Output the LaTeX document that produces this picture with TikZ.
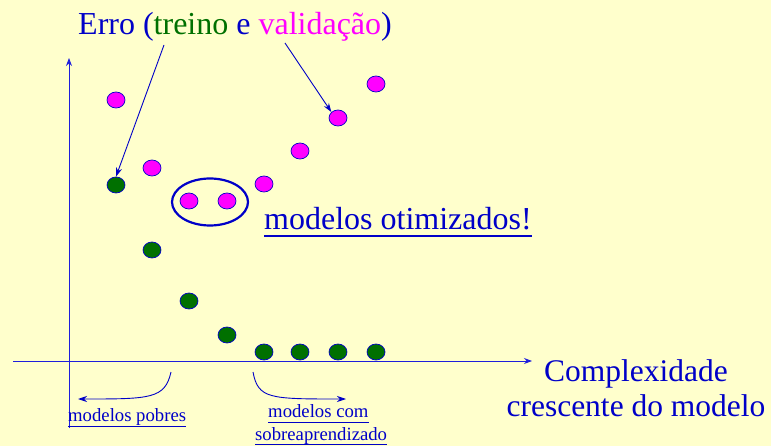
\documentclass[tikz,border=0pt]{standalone}
\usepackage{fontspec}
\setmainfont{Liberation Serif}
\usetikzlibrary{arrows.meta,shapes.geometric}
\definecolor{bg}{RGB}{255,255,204}
\definecolor{tblue}{RGB}{0,0,200}
\definecolor{lblue}{RGB}{30,30,220}
\definecolor{mag}{RGB}{255,0,255}
\definecolor{grn}{RGB}{0,112,0}
\begin{document}
\begin{tikzpicture}[x=1pt,y=-1pt]
\tikzset{
  dotv/.style={ellipse, draw=tblue, line width=0.7pt, fill=mag, minimum width=18pt, minimum height=16pt, inner sep=0pt},
  dott/.style={dotv, fill=grn},
  axis/.style={lblue, line width=0.9pt, -{Stealth[length=8pt,width=6pt]}},
  pointer/.style={tblue, line width=0.9pt, -{Stealth[length=9pt,width=6pt]}},
  lbl/.style={inner sep=0pt, anchor=base west, text=tblue},
  small/.style={font=\fontsize{18.7}{20}\selectfont},
}
\fill[bg] (0,0) rectangle (771,446);
\useasboundingbox (0,0) rectangle (771,446);
% axes
\coordinate (xs) at (13,361);
\coordinate (xe) at (532,361);
\coordinate (ys) at (69,428);
\coordinate (ye) at (69,58);
\draw[axis] (xs) -- (xe);
\draw[axis] (ys) -- (ye);
% validation dots
\node[dotv] (v1) at (116,100) {};
\node[dotv] (v2) at (152,168) {};
\node[dotv] (v3) at (189,201) {};
\node[dotv] (v4) at (227,201) {};
\node[dotv] (v5) at (264,184) {};
\node[dotv] (v6) at (300,151) {};
\node[dotv] (v7) at (338,118) {};
\node[dotv] (v8) at (376,84) {};
% training dots
\node[dott] (t1) at (116,185) {};
\node[dott] (t2) at (152,250) {};
\node[dott] (t3) at (189,301) {};
\node[dott] (t4) at (227,335) {};
\node[dott] (t5) at (264,352) {};
\node[dott] (t6) at (300,352) {};
\node[dott] (t7) at (338,352) {};
\node[dott] (t8) at (376,352) {};
% optimum ellipse
\node[ellipse, draw=tblue, line width=2.2pt, minimum width=76pt, minimum height=47pt] (opt) at (210,202) {};
% title
\node[lbl, font=\fontsize{32}{36}\selectfont] (title) at (78,35)
  {Erro (\textcolor{grn}{treino} e \textcolor{mag}{validação})};
\coordinate (tr) at (164,45);
\coordinate (va) at (285,43);
\draw[pointer] (tr) -- (t1.north);
\draw[pointer] (va) -- (v7.north west);
% modelos otimizados
\node[lbl, font=\fontsize{32}{36}\selectfont] (mo) at (264,230) {modelos otimizados!};
\draw[tblue, line width=1.8pt] ([yshift=-6pt]mo.base west) -- ([yshift=-6pt]mo.base east);
% axis label
\node[text=tblue, font=\fontsize{31.5}{35}\selectfont, align=center, inner sep=0pt] (cx) at (636,388)
  {Complexidade\\crescente do modelo};
% poor models
\coordinate (pa) at (171,372);
\coordinate (pb) at (78,399);
\draw[pointer] (pa) .. controls (165,399) and (150,399) .. (pb);
\node[lbl, small] (mp) at (68,421) {modelos pobres};
\draw[tblue, line width=0.8pt] ([yshift=-5pt]mp.base west) -- ([yshift=-5pt]mp.base east);
% overfit models
\coordinate (oa) at (253,372);
\coordinate (ob) at (346,399);
\draw[pointer] (oa) .. controls (258,399) and (270,399) .. (ob);
\node[lbl, small] (mc) at (268,417) {modelos com\ };
\draw[tblue, line width=0.8pt] ([yshift=-5pt]mc.base west) -- ([yshift=-5pt]mc.base east);
\node[lbl, small] (ms) at (255,440) {sobreaprendizado};
\draw[tblue, line width=0.8pt] ([yshift=-4pt]ms.base west) -- ([yshift=-4pt]ms.base east);
\end{tikzpicture}
\end{document}
